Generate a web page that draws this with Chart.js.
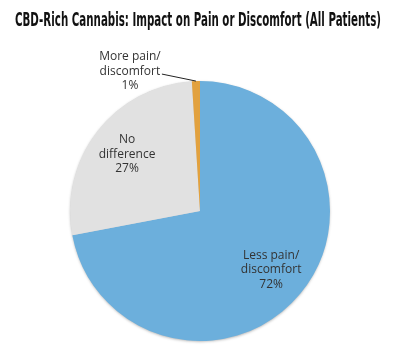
<!DOCTYPE html>
<html>
<head>
<meta charset="utf-8">
<script src="https://cdn.jsdelivr.net/npm/chart.js@4.4.1/dist/chart.umd.min.js"></script>
<style>
  html, body { margin: 0; padding: 0; background: #fff; }
  #wrap { position: relative; width: 396px; height: 353px; overflow: hidden; }
  #title {
    position: absolute; left: 0; top: 8px; display: inline-block;
    font-family: "Liberation Sans Narrow", "DejaVu Sans Condensed", "Liberation Sans", sans-serif;
    font-weight: bold; font-size: 19px; color: #111; white-space: nowrap;
    transform-origin: 0 0;
  }
  canvas { position: absolute; left: 0; top: 0; }
</style>
</head>
<body>
<div id="wrap">
  <canvas id="chart" width="396" height="353"></canvas>
  <div id="title">CBD-Rich Cannabis: Impact on Pain or Discomfort (All Patients)</div>
</div>
<script>
const categories = ['Less pain/discomfort', 'No difference', 'More pain/discomfort'];
const labelLines = [['Less pain/', 'discomfort'], ['No', 'difference'], ['More pain/', 'discomfort']];
const shares = [72, 27, 1];
const sliceColors = ['#6cafdc', '#e1e1e1', '#e2a13e'];

// squeeze the title to the width it has in the reference
const titleEl = document.getElementById('title');
const tw = titleEl.getBoundingClientRect().width;
const sx = 366 / tw;
titleEl.style.left = ((396 - 366) / 2) + 'px';
titleEl.style.transform = 'scaleX(' + sx + ')';

const sliceLabels = {
  id: 'sliceLabels',
  afterDatasetsDraw(chart) {
    const ctx = chart.ctx;
    const meta = chart.getDatasetMeta(0);
    ctx.save();
    ctx.font = '12px "Open Sans", sans-serif';
    ctx.fillStyle = '#333';
    ctx.textAlign = 'center';
    ctx.textBaseline = 'middle';
    const lh = 14.5;
    meta.data.forEach((arc, i) => {
      const p = arc.getProps(['x', 'y', 'startAngle', 'endAngle', 'outerRadius'], true);
      const mid = (p.startAngle + p.endAngle) / 2;
      const lines = labelLines[i].concat([shares[i] + '%']);
      let cx, cy;
      if (shares[i] < 5) {
        const ax = p.x + Math.cos(mid) * p.outerRadius;
        const ay = p.y + Math.sin(mid) * p.outerRadius;
        ctx.strokeStyle = '#222';
        ctx.lineWidth = 1;
        ctx.beginPath();
        ctx.moveTo(ax - 34, ay - 7);
        ctx.lineTo(ax, ay);
        ctx.stroke();
        cx = ax - 66;
        cy = ay - 9.5;
      } else {
        cx = p.x + Math.cos(mid) * p.outerRadius * 0.71;
        cy = p.y + Math.sin(mid) * p.outerRadius * 0.71;
      }
      lines.forEach((t, k) => {
        ctx.fillText(t, cx, cy + (k - 1) * lh);
      });
    });
    ctx.restore();
  }
};

// soft edge round the whole pie only, not between slices
const pieShadow = {
  id: 'pieShadow',
  beforeDatasetsDraw(chart) {
    const arc = chart.getDatasetMeta(0).data[0];
    if (!arc) return;
    const p = arc.getProps(['x', 'y', 'outerRadius'], true);
    const ctx = chart.ctx;
    ctx.save();
    ctx.shadowColor = 'rgba(0,0,0,0.35)';
    ctx.shadowBlur = 3;
    ctx.shadowOffsetY = 1;
    ctx.fillStyle = '#ccc';
    ctx.beginPath();
    ctx.arc(p.x, p.y, p.outerRadius - 0.5, 0, Math.PI * 2);
    ctx.fill();
    ctx.restore();
  }
};

new Chart(document.getElementById('chart'), {
  type: 'pie',
  data: {
    labels: categories,
    datasets: [{
      data: shares,
      backgroundColor: sliceColors,
      borderWidth: 0,
    }],
  },
  options: {
    responsive: false,
    devicePixelRatio: 1,
    animation: false,
    layout: { padding: { top: 81, left: 70, right: 66, bottom: 12 } },
    plugins: {
      legend: { display: false },
      tooltip: { enabled: false },
      title: { display: false },
    },
  },
  plugins: [pieShadow, sliceLabels],
});
</script>
</body>
</html>
